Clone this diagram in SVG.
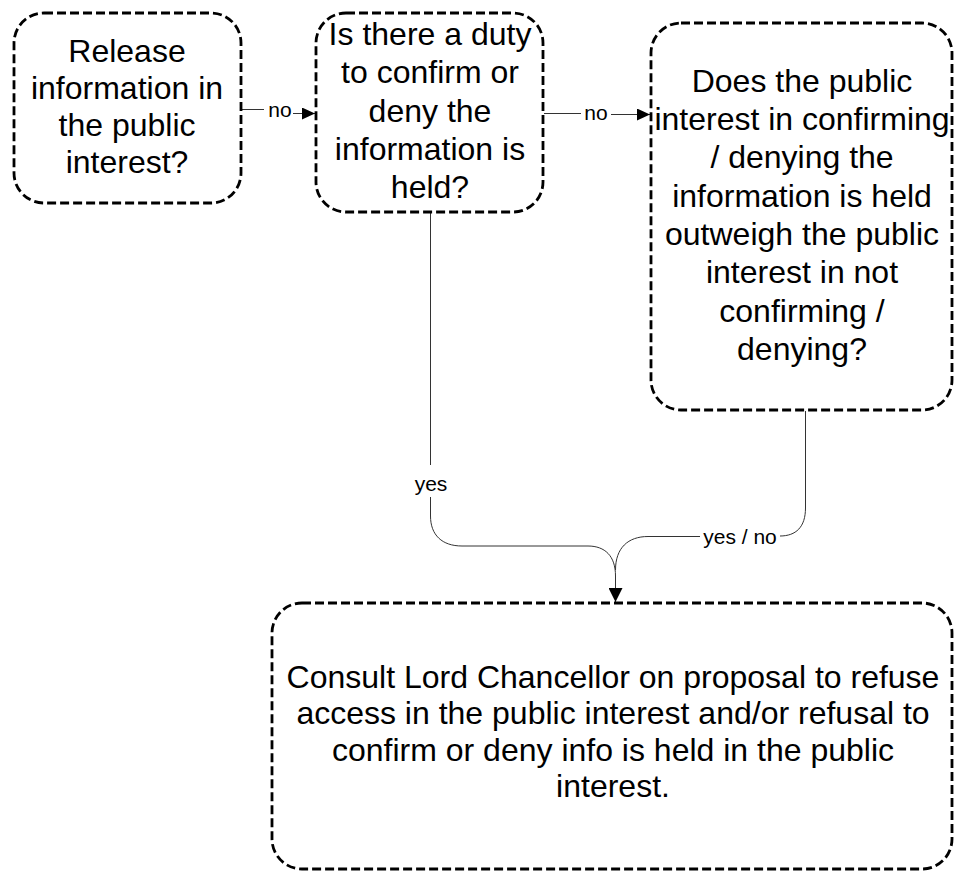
<svg xmlns="http://www.w3.org/2000/svg" width="954" height="871" viewBox="0 0 954 871">
<style>
.box{fill:#fff;stroke:#000;stroke-width:2.8;stroke-dasharray:9 4}
.t{font-family:"Liberation Sans",Arial,sans-serif;font-size:32px;fill:#000;text-anchor:middle}
.lbl{font-family:"Liberation Sans",Arial,sans-serif;font-size:21px;fill:#000;text-anchor:middle}
.c{fill:none;stroke:#333;stroke-width:1}
</style>
<defs>
<marker id="ah" viewBox="0 0 13 12" refX="13" refY="6" markerWidth="13" markerHeight="12" markerUnits="userSpaceOnUse" orient="auto">
<path d="M0,0 L13,6 L0,12 Z" fill="#000"/>
</marker>
<marker id="ahb" viewBox="0 0 14 14" refX="14" refY="7" markerWidth="14" markerHeight="14" markerUnits="userSpaceOnUse" orient="auto">
<path d="M0,0 L14,7 L0,14 Z" fill="#000"/>
</marker>
</defs>
<rect width="954" height="871" fill="#fff"/>
<g id="connectors">
<path class="c" d="M242,109.5 H264"/>
<path class="c" d="M293,113.5 H315" marker-end="url(#ah)"/>
<text class="lbl" x="280" y="117">no</text>
<path class="c" d="M544,113.5 H581"/>
<path class="c" d="M611,114.5 H650" marker-end="url(#ah)"/>
<text class="lbl" x="596" y="120">no</text>
<path class="c" d="M430.5,213 V465"/>
<path class="c" d="M430.5,497 V516 C430.5,535 442,546 462,546 H588 C605,546 615.5,556 615.5,576 V602" marker-end="url(#ahb)"/>
<text class="lbl" x="431" y="491">yes</text>
<path class="c" d="M805.5,411 V508 C805.5,527 796,536 780,536"/>
<path class="c" d="M700,536.5 H648 C628,536.5 615.5,548 615.5,570"/>
<text class="lbl" x="740" y="544">yes / no</text>
</g>
<g id="node-release">
<rect class="box" x="14" y="13" width="227" height="190" rx="30" ry="30"/>
<text class="t" x="127" y="62">Release</text>
<text class="t" x="127" y="99">information in</text>
<text class="t" x="127" y="136">the public</text>
<text class="t" x="127" y="173">interest?</text>
</g>
<g id="node-duty">
<rect class="box" x="316" y="13" width="227" height="199" rx="30" ry="30"/>
<text class="t" x="430" y="45">Is there a duty</text>
<text class="t" x="430" y="83">to confirm or</text>
<text class="t" x="430" y="122">deny the</text>
<text class="t" x="430" y="160">information is</text>
<text class="t" x="430" y="198">held?</text>
</g>
<g id="node-public-interest">
<rect class="box" x="651" y="23" width="301" height="387" rx="30" ry="30"/>
<text class="t" x="802" y="92">Does the public</text>
<text class="t" x="802" y="130">interest in confirming</text>
<text class="t" x="802" y="168">/ denying the</text>
<text class="t" x="802" y="207">information is held</text>
<text class="t" x="802" y="245">outweigh the public</text>
<text class="t" x="802" y="283">interest in not</text>
<text class="t" x="802" y="322">confirming /</text>
<text class="t" x="802" y="360">denying?</text>
</g>
<g id="node-consult">
<rect class="box" x="272" y="603" width="680" height="266" rx="30" ry="30"/>
<text class="t" x="613" y="688">Consult Lord Chancellor on proposal to refuse</text>
<text class="t" x="613" y="724">access in the public interest and/or refusal to</text>
<text class="t" x="613" y="761">confirm or deny info is held in the public</text>
<text class="t" x="613" y="797">interest.</text>
</g>
</svg>
